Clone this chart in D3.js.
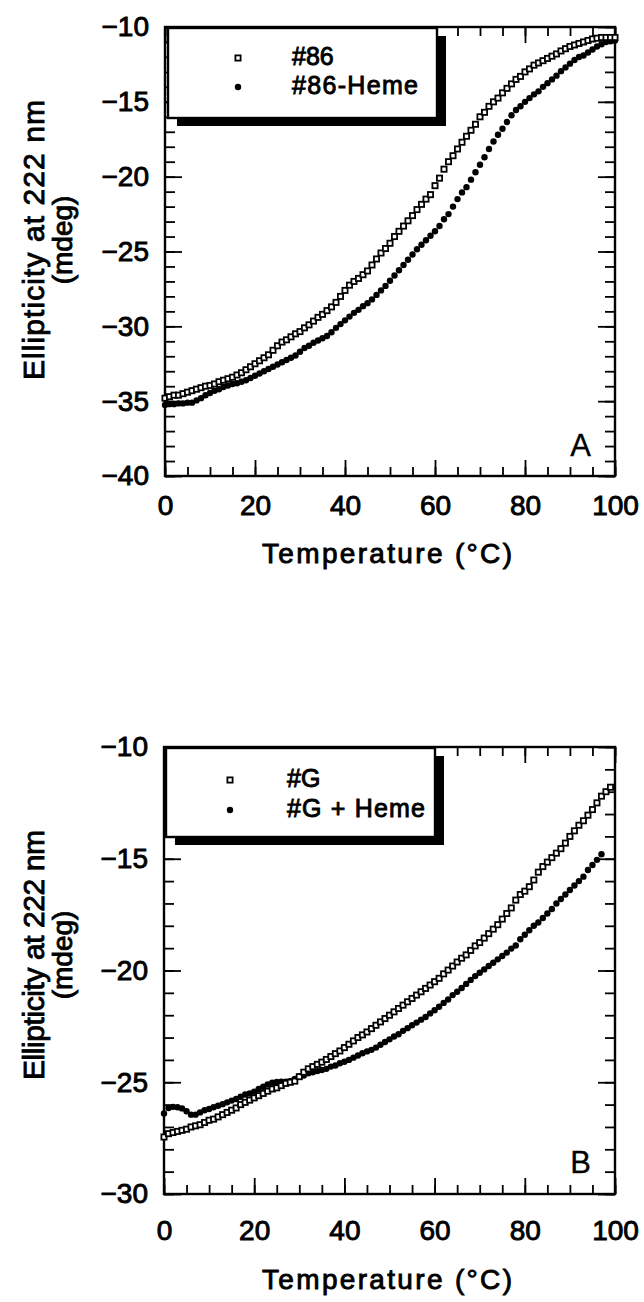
<!DOCTYPE html>
<html>
<head>
<meta charset="utf-8">
<script src="https://cdn.jsdelivr.net/npm/d3@7/dist/d3.min.js"></script>
<style>
  body { margin: 0; background: #fff; }
  svg { display: block; }
  text { font-family: "Liberation Sans", Arial, Helvetica, sans-serif; fill: #000; }
</style>
</head>
<body>
<div id="chart"></div>
<script>
// temperatures (°C), one reading per degree
const temps = d3.range(0, 101);

// panel A: ellipticity at 222 nm (mdeg)
const p86 = [-34.8, -34.7, -34.6, -34.6, -34.5, -34.4, -34.3, -34.2, -34.1, -34.0,
  -33.95, -33.85, -33.7, -33.6, -33.5, -33.4, -33.25, -33.1, -32.9, -32.7,
  -32.5, -32.3, -32.1, -31.9, -31.6, -31.3, -31.05, -30.9, -30.7, -30.5,
  -30.35, -30.1, -29.9, -29.65, -29.4, -29.2, -28.95, -28.7, -28.4, -28.0,
  -27.6, -27.25, -27.0, -26.8, -26.55, -26.3, -25.9, -25.5, -25.1, -24.8,
  -24.45, -24.0, -23.65, -23.3, -22.95, -22.6, -22.2, -21.85, -21.5, -21.2,
  -20.6, -20.1, -19.5, -19.0, -18.6, -18.15, -17.7, -17.3, -16.9, -16.5,
  -16.0, -15.7, -15.3, -15.0, -14.75, -14.4, -14.1, -13.8, -13.5, -13.3,
  -13.0, -12.8, -12.55, -12.4, -12.25, -12.1, -11.95, -11.8, -11.6, -11.45,
  -11.3, -11.2, -11.1, -11.0, -10.9, -10.8, -10.75, -10.7, -10.7, -10.7, -10.7];

const p86Heme = [-35.25, -35.2, -35.2, -35.15, -35.15, -35.1, -35.1, -34.95, -34.8, -34.6,
  -34.45, -34.3, -34.2, -34.05, -33.95, -33.85, -33.8, -33.7, -33.6, -33.45,
  -33.3, -33.15, -33.0, -32.85, -32.7, -32.55, -32.4, -32.25, -32.1, -31.95,
  -31.7, -31.45, -31.3, -31.1, -30.95, -30.8, -30.65, -30.4, -30.1, -29.85,
  -29.6, -29.35, -29.1, -28.9, -28.65, -28.45, -28.2, -27.9, -27.6, -27.3,
  -26.95, -26.6, -26.25, -25.9, -25.55, -25.2, -24.85, -24.55, -24.25, -23.95,
  -23.65, -23.3, -22.85, -22.5, -22.0, -21.5, -21.05, -20.7, -20.2, -19.7,
  -19.2, -18.7, -18.15, -17.65, -17.2, -16.8, -16.35, -15.9, -15.55, -15.3,
  -15.0, -14.75, -14.5, -14.3, -14.0, -13.75, -13.5, -13.25, -12.95, -12.7,
  -12.45, -12.2, -12.0, -11.9, -11.7, -11.5, -11.3, -11.15, -11.0, -10.95, -10.9];

// panel B
const pG = [-27.45, -27.3, -27.25, -27.2, -27.15, -27.1, -27.0, -26.95, -26.9, -26.8,
  -26.7, -26.65, -26.55, -26.45, -26.35, -26.25, -26.15, -26.0, -25.9, -25.8,
  -25.7, -25.6, -25.5, -25.4, -25.3, -25.25, -25.15, -25.05, -25.0, -24.95,
  -24.75, -24.55, -24.4, -24.3, -24.2, -24.1, -23.98, -23.85, -23.72, -23.6,
  -23.45, -23.3, -23.15, -23.0, -22.88, -22.75, -22.6, -22.45, -22.3, -22.15,
  -22.0, -21.85, -21.7, -21.55, -21.4, -21.25, -21.1, -20.95, -20.8, -20.65,
  -20.5, -20.35, -20.15, -19.98, -19.8, -19.62, -19.45, -19.3, -19.1, -18.9,
  -18.75, -18.55, -18.35, -18.15, -17.95, -17.7, -17.45, -17.2, -16.85, -16.6,
  -16.45, -16.25, -15.95, -15.6, -15.35, -15.15, -14.95, -14.75, -14.55, -14.3,
  -14.0, -13.75, -13.5, -13.3, -13.05, -12.8, -12.5, -12.2, -12.0, -11.8];

const pGHeme = [-26.4, -26.15, -26.1, -26.12, -26.17, -26.3, -26.45, -26.45, -26.35, -26.25,
  -26.2, -26.12, -26.05, -25.98, -25.9, -25.82, -25.75, -25.65, -25.55, -25.5,
  -25.42, -25.3, -25.2, -25.1, -25.02, -24.99, -24.97, -24.97, -24.95, -24.85,
  -24.75, -24.7, -24.6, -24.55, -24.5, -24.45, -24.4, -24.3, -24.25, -24.15,
  -24.08, -24.0, -23.9, -23.8, -23.7, -23.62, -23.55, -23.45, -23.32, -23.2,
  -23.08, -22.95, -22.85, -22.7, -22.58, -22.45, -22.33, -22.2, -22.08, -21.92,
  -21.78, -21.62, -21.45, -21.3, -21.1, -20.95, -20.78, -20.6, -20.42, -20.25,
  -20.1, -19.95, -19.8, -19.65, -19.5, -19.35, -19.2, -19.02, -18.88, -18.6,
  -18.4, -18.2, -18.0, -17.85, -17.65, -17.45, -17.25, -17.0, -16.8, -16.6,
  -16.4, -16.2, -16.0, -15.8, -15.5, -15.28, -15.05, -14.8];

const xTicks = [0, 20, 40, 60, 80, 100];
const yTicksA = [-40, -35, -30, -25, -20, -15, -10];
const yTicksB = [-30, -25, -20, -15, -10];
const legendA = ["#86", "#86-Heme"];
const legendB = ["#G", "#G + Heme"];

const panels = [
  {
    top: 27, bottom: 476, left: 165, right: 615,
    yDomain: [-40, -10], yTicks: yTicksA, letter: "A",
    openVals: p86, fillVals: p86Heme, labels: legendA,
    xPad: 19, titleY: 563, yTitle: 240, yTitleLen: 280, letterY: 456,
    legend: { x0: 168, y0: 28, x1: 437, y1: 118, textX: 292, symX: 238, rowY: [65, 94] }
  },
  {
    top: 747, bottom: 1194, left: 164, right: 615,
    yDomain: [-30, -10], yTicks: yTicksB, letter: "B",
    openVals: pG, fillVals: pGHeme, labels: legendB,
    xPad: 26, titleY: 1289, yTitle: 955, yTitleLen: 250, letterY: 1173,
    legend: { x0: 166, y0: 748, x1: 435, y1: 837, textX: 287, symX: 230, rowY: [787, 817] }
  }
];

const svg = d3.select("#chart").append("svg")
    .attr("width", 644)
    .attr("height", 1302);

function drawPanel(p) {
  const x = d3.scaleLinear().domain([0, 100]).range([p.left, p.right]);
  const y = d3.scaleLinear().domain(p.yDomain).range([p.bottom, p.top]);
  const g = svg.append("g");

  const xMinor = d3.range(0, 101, 5);
  const yMinor = d3.range(p.yDomain[0], p.yDomain[1] + 1, 1);

  // inward minor ticks on all four sides
  g.append("g").attr("transform", `translate(0,${p.bottom})`)
    .call(d3.axisBottom(x).tickValues(xMinor).tickSize(-9).tickFormat(""));
  g.append("g").attr("transform", `translate(0,${p.top})`)
    .call(d3.axisTop(x).tickValues(xMinor).tickSize(-9).tickFormat(""));
  g.append("g").attr("transform", `translate(${p.left},0)`)
    .call(d3.axisLeft(y).tickValues(yMinor).tickSize(-10).tickFormat(""));
  g.append("g").attr("transform", `translate(${p.right},0)`)
    .call(d3.axisRight(y).tickValues(yMinor).tickSize(-10).tickFormat(""));

  // major ticks, labelled on bottom and left
  g.append("g").attr("transform", `translate(0,${p.bottom})`)
    .call(d3.axisBottom(x).tickValues(xTicks).tickSize(-16).tickPadding(p.xPad).tickFormat(d3.format("d")));
  g.append("g").attr("transform", `translate(0,${p.top})`)
    .call(d3.axisTop(x).tickValues(xTicks).tickSize(-16).tickFormat(""));
  g.append("g").attr("transform", `translate(${p.left},0)`)
    .call(d3.axisLeft(y).tickValues(p.yTicks).tickSize(-17).tickPadding(16).tickFormat(d3.format("d")));
  g.append("g").attr("transform", `translate(${p.right},0)`)
    .call(d3.axisRight(y).tickValues(p.yTicks).tickSize(-17).tickFormat(""));

  g.selectAll(".domain").remove();
  g.selectAll(".tick line").attr("stroke", "#000").attr("stroke-width", 1.8);
  g.selectAll(".tick text")
      .attr("fill", "#000")
      .attr("stroke", "#000")
      .attr("stroke-width", 0.9)
      .attr("font-family", "Liberation Sans, Arial, sans-serif")
      .attr("font-size", 28);

  g.append("rect")
      .attr("x", p.left).attr("y", p.top)
      .attr("width", p.right - p.left).attr("height", p.bottom - p.top)
      .attr("fill", "none").attr("stroke", "#000").attr("stroke-width", 2.4);

  // data
  const fillPts = p.fillVals.map((v, i) => [temps[i], v]);
  const openPts = p.openVals.map((v, i) => [temps[i], v]);

  g.append("g").selectAll("circle").data(fillPts).join("circle")
      .attr("cx", d => x(d[0])).attr("cy", d => y(d[1]))
      .attr("r", 3.2).attr("fill", "#000");

  g.append("g").selectAll("rect").data(openPts).join("rect")
      .attr("x", d => x(d[0]) - 2.6).attr("y", d => y(d[1]) - 2.6)
      .attr("width", 5.2).attr("height", 5.2)
      .attr("fill", "#fff").attr("stroke", "#000").attr("stroke-width", 1.8);

  // legend with drop shadow
  const L = p.legend;
  g.append("rect")
      .attr("x", L.x0 + 9).attr("y", L.y0 + 8)
      .attr("width", L.x1 - L.x0).attr("height", L.y1 - L.y0)
      .attr("fill", "#000");
  g.append("rect")
      .attr("x", L.x0).attr("y", L.y0)
      .attr("width", L.x1 - L.x0).attr("height", L.y1 - L.y0)
      .attr("fill", "#fff").attr("stroke", "#000").attr("stroke-width", 2.4);

  g.append("rect")
      .attr("x", L.symX - 2.6).attr("y", L.rowY[0] - 9.6)
      .attr("width", 5.2).attr("height", 5.2)
      .attr("fill", "#fff").attr("stroke", "#000").attr("stroke-width", 1.8);
  g.append("circle")
      .attr("cx", L.symX).attr("cy", L.rowY[1] - 7)
      .attr("r", 3.2).attr("fill", "#000");

  g.selectAll(".leg-text").data(p.labels).join("text")
      .attr("class", "leg-text")
      .attr("x", L.textX).attr("y", (d, i) => L.rowY[i])
      .attr("font-size", 25)
      .attr("textLength", (d, i) => i ? (p.letter === "A" ? 126 : 138) : null)
      .attr("stroke", "#000").attr("stroke-width", 0.9)
      .text(d => d);

  // panel letter
  g.append("text")
      .attr("x", 591).attr("y", p.letterY)
      .attr("text-anchor", "end")
      .attr("font-size", 31)
      .attr("stroke", "#000").attr("stroke-width", 0.3)
      .text(p.letter);

  // axis titles
  g.append("text")
      .attr("x", 387).attr("y", p.titleY)
      .attr("text-anchor", "middle")
      .attr("font-size", 28)
      .attr("textLength", 250)
      .attr("stroke", "#000").attr("stroke-width", 0.9)
      .text("Temperature (°C)");

  g.append("text")
      .attr("transform", `translate(44,${p.yTitle}) rotate(-90)`)
      .attr("text-anchor", "middle")
      .attr("font-size", 30)
      .attr("textLength", p.yTitleLen)
      .attr("stroke", "#000").attr("stroke-width", 0.9)
      .text("Ellipticity at 222 nm");
  g.append("text")
      .attr("transform", `translate(72,${p.yTitle}) rotate(-90)`)
      .attr("text-anchor", "middle")
      .attr("font-size", 28)
      .attr("stroke", "#000").attr("stroke-width", 0.9)
      .text("(mdeg)");
}

panels.forEach(drawPanel);
</script>
</body>
</html>
